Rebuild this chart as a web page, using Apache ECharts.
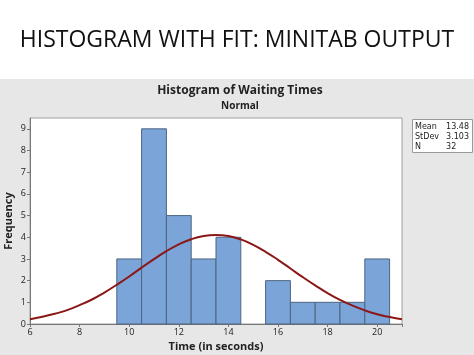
<!DOCTYPE html>
<html>
<head>
<meta charset="utf-8">
<script src="https://cdn.jsdelivr.net/npm/echarts@6/dist/echarts.min.js"></script>
<style>html,body{margin:0;padding:0;background:#fff;}#c{width:474px;height:355px;}</style>
</head>
<body>
<div id="c"></div>
<script>
// Histogram bins (left edge, right edge) and counts
var binStarts = [9.5, 10.5, 11.5, 12.5, 13.5, 14.5, 15.5, 16.5, 17.5, 18.5, 19.5];
var binEnds   = [10.5, 11.5, 12.5, 13.5, 14.5, 15.5, 16.5, 17.5, 18.5, 19.5, 20.5];
var counts    = [3, 9, 5, 3, 4, 0, 2, 1, 1, 1, 3];
// Fitted normal curve
var fitX = [6, 6.5, 7, 7.5, 8, 8.5, 9, 9.5, 10, 10.5, 11, 11.5, 12, 12.5, 13, 13.5, 14, 14.5, 15, 15.5, 16, 16.5, 17, 17.5, 18, 18.5, 19, 19.5, 20, 20.5, 21];
var fitY = [0.22, 0.33, 0.47, 0.64, 0.87, 1.13, 1.45, 1.81, 2.19, 2.6, 2.99, 3.36, 3.67, 3.91, 4.06, 4.11, 4.06, 3.9, 3.65, 3.33, 2.96, 2.56, 2.16, 1.78, 1.42, 1.11, 0.85, 0.63, 0.45, 0.32, 0.22];
var xTicks = [6, 8, 10, 12, 14, 16, 18, 20];
var yTicks = [0, 1, 2, 3, 4, 5, 6, 7, 8, 9];
var statNames = ['Mean', 'StDev', 'N'];
var statValues = ['13.48', '3.103', '32'];

var chart = echarts.init(document.getElementById('c'), null, {renderer: 'canvas'});
var histData = binStarts.map(function (s, i) { return [s, binEnds[i], counts[i]]; });
var lineData = fitX.map(function (x, i) { return [x, fitY[i]]; });

var fontFam = '"Open Sans", "DejaVu Sans", sans-serif';

chart.setOption({
  backgroundColor: '#ffffff',
  animation: false,
  graphic: [
    {type: 'rect', left: 0, top: 79, shape: {width: 474, height: 276}, style: {fill: '#e7e7e7'}, z: -10},
    {type: 'rect', left: 412, top: 119, shape: {width: 60, height: 33}, style: {fill: '#ffffff', stroke: '#9a9a9a', lineWidth: 1}},
    {type: 'text', left: 415, top: 122, style: {text: statNames.join('\n'), font: '8px "DejaVu Sans", sans-serif', fill: '#222', lineHeight: 10}},
    {type: 'text', right: 5, top: 122, style: {text: statValues.join('\n'), font: '8px "DejaVu Sans", sans-serif', fill: '#222', lineHeight: 10, align: 'right'}}
  ],
  title: [
    {text: 'HISTOGRAM WITH FIT: MINITAB OUTPUT', left: 'center', top: 24,
     textStyle: {fontFamily: fontFam, fontWeight: 'normal', fontSize: 23, color: '#111'}},
    {text: 'Histogram of Waiting Times', left: 235, textAlign: 'center', top: 80,
     textStyle: {fontFamily: fontFam, fontWeight: 'bold', fontSize: 12, color: '#222'}},
    {text: 'Normal', left: 235, textAlign: 'center', top: 96,
     textStyle: {fontFamily: fontFam, fontWeight: 'bold', fontSize: 10, color: '#222'}}
  ],
  grid: {left: 30, right: 72, top: 118, bottom: 31, containLabel: false, outerBoundsMode: 'none',
         show: true, backgroundColor: '#ffffff', borderColor: '#a0a0a0', borderWidth: 1},
  xAxis: {
    type: 'value', min: 6, max: 21, interval: 2,
    name: 'Time (in seconds)', nameLocation: 'middle', nameGap: 17, nameMoveOverlap: false,
    nameTextStyle: {fontFamily: fontFam, fontWeight: 'bold', fontSize: 11, color: '#222'},
    axisLine: {show: true, lineStyle: {color: '#777'}},
    axisTick: {show: true, length: 3, lineStyle: {color: '#777'}},
    axisLabel: {fontFamily: fontFam, fontSize: 9, color: '#222', margin: 4,
      formatter: function (v) { return xTicks.indexOf(v) >= 0 ? String(v) : ''; }},
    splitLine: {show: false}
  },
  yAxis: {
    type: 'value', min: 0, max: 9.5, interval: 1,
    name: 'Frequency', nameLocation: 'middle', nameGap: 16, nameMoveOverlap: false,
    nameTextStyle: {fontFamily: fontFam, fontWeight: 'bold', fontSize: 11, color: '#222'},
    axisLine: {show: true, lineStyle: {color: '#777'}},
    axisTick: {show: true, length: 3, lineStyle: {color: '#777'}},
    axisLabel: {fontFamily: fontFam, fontSize: 9, color: '#222', margin: 4, showMaxLabel: false,
      formatter: function (v) { return yTicks.indexOf(v) >= 0 ? String(v) : ''; }},
    splitLine: {show: false}
  },
  series: [
    {
      type: 'custom',
      data: histData,
      encode: {x: [0, 1], y: 2},
      renderItem: function (params, api) {
        var p0 = api.coord([api.value(0), api.value(2)]);
        var p1 = api.coord([api.value(1), 0]);
        if (api.value(2) <= 0) return null;
        return {
          type: 'rect',
          shape: {x: p0[0], y: p0[1], width: p1[0] - p0[0], height: p1[1] - p0[1]},
          style: {fill: '#7ba4d9', stroke: '#4d6580', lineWidth: 1}
        };
      },
      z: 2
    },
    {
      type: 'line',
      data: lineData,
      smooth: true,
      showSymbol: false,
      lineStyle: {color: '#8b1717', width: 2},
      z: 3
    }
  ]
});
</script>
</body>
</html>
